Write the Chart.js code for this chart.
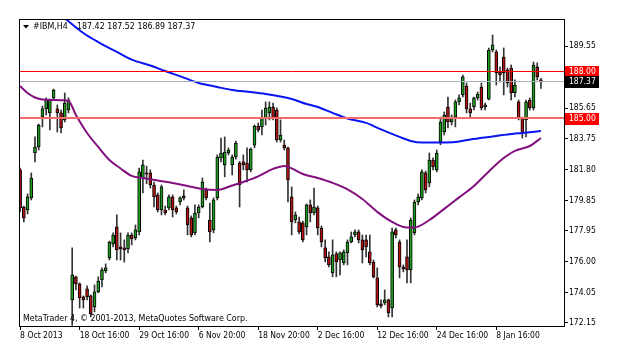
<!DOCTYPE html>
<html>
<head>
<meta charset="utf-8">
<title>#IBM,H4</title>
<script src="https://cdn.jsdelivr.net/npm/chart.js@4.4.1/dist/chart.umd.min.js"></script>
<style>
  html, body { margin: 0; padding: 0; background: #fff; }
  canvas { display: block; }
</style>
</head>
<body>
<canvas id="chart" width="620" height="364"></canvas>
<script>
"use strict";

// ---- IBM H4 bars (one entry per bar, oldest first) ----
const opens = [181.77,179.44,179.25,180.01,182.83,183.21,185.09,185.60,185.35,186.29,
  185.60,185.35,184.91,185.53,173.60,175.05,174.61,173.79,174.29,173.85,
  173.16,174.10,174.86,175.42,176.24,177.12,178.19,176.93,176.87,176.80,
  177.68,177.49,177.87,181.26,181.58,181.58,180.82,180.20,179.25,179.25,
  179.38,180.07,179.38,179.75,180.01,179.38,178.75,177.81,179.06,179.44,
  180.51,178.62,178.00,180.01,182.52,182.08,182.83,182.08,182.58,182.20,
  182.27,182.20,181.77,183.33,184.52,184.47,185.03,185.35,185.72,185.53,
  183.65,183.33,183.15,180.07,178.62,178.50,178.44,178.19,179.57,179.06,
  179.38,178.12,176.87,176.30,175.30,176.49,176.11,175.92,176.55,177.24,
  177.68,177.87,177.37,177.37,176.62,175.98,174.98,173.35,173.41,173.60,
  173.09,178.00,177.24,175.67,176.30,175.49,177.81,179.75,180.01,181.58,
  180.95,182.39,181.77,183.52,184.15,185.72,184.78,185.09,186.04,186.48,
  187.04,185.60,185.72,186.29,186.98,185.72,186.22,189.30,189.18,187.92,
  188.86,188.05,188.17,186.60,186.04,185.03,184.91,186.16,185.66,188.24,
  187.42];
const highs = [181.89,179.50,180.26,181.58,183.84,184.65,185.78,186.29,186.22,186.85,
  185.85,185.53,186.60,186.29,176.87,175.10,174.67,173.85,174.48,173.92,
  174.54,175.05,175.61,175.86,177.30,177.81,178.94,177.81,177.37,177.81,
  177.81,178.31,181.89,182.39,182.00,181.77,181.00,180.32,180.82,179.50,
  180.20,180.20,179.50,180.07,180.51,179.50,178.88,179.57,179.57,181.26,
  180.63,179.69,180.01,182.71,183.77,183.84,183.15,182.71,183.58,182.30,
  182.71,183.15,183.15,184.59,184.72,185.53,186.04,186.04,185.97,185.66,
  184.91,183.65,183.21,180.70,179.13,178.81,178.56,179.63,179.88,180.63,
  179.50,178.25,177.37,176.62,177.37,176.62,176.62,176.74,177.37,177.87,
  178.00,178.00,177.68,177.68,177.68,176.11,175.61,173.60,174.23,173.66,
  178.12,178.12,177.37,175.80,177.37,178.75,179.88,180.26,181.77,181.70,
  182.83,182.52,183.02,185.09,185.41,186.35,185.22,186.16,186.48,187.73,
  187.23,185.97,186.35,186.66,187.23,185.97,189.43,190.24,189.30,188.24,
  189.43,188.17,188.36,187.42,186.16,185.09,186.16,186.29,188.55,188.49,
  187.52];
const lows = [179.13,178.50,179.00,179.88,182.27,183.02,184.47,185.22,184.28,186.16,
  184.15,184.09,184.78,185.35,172.00,174.23,173.09,173.09,173.60,172.53,
  172.85,174.04,174.42,175.30,176.11,176.93,176.11,176.11,175.98,176.55,
  177.05,177.37,177.68,180.32,180.90,180.63,179.44,179.13,178.94,178.94,
  179.25,178.81,179.00,179.57,179.88,177.68,177.56,177.68,178.75,179.38,
  179.88,177.24,177.81,179.88,182.27,181.33,182.71,181.45,182.45,179.44,
  181.77,181.01,181.64,183.15,184.15,183.96,184.59,184.91,184.91,183.52,
  183.52,183.02,179.75,177.68,178.44,177.75,177.24,177.68,178.50,178.94,
  177.68,176.93,175.98,175.67,175.05,175.05,175.17,175.80,175.80,177.18,
  177.56,177.18,175.92,176.30,175.80,174.98,173.16,173.09,173.29,172.53,
  172.53,177.49,174.98,175.36,174.67,174.67,177.68,179.57,179.88,180.32,
  180.70,181.77,181.64,183.35,183.96,184.40,184.59,184.47,185.85,186.35,
  185.35,185.09,185.53,186.16,185.53,185.53,186.16,189.18,187.10,187.29,
  186.48,186.98,186.16,186.35,184.91,183.77,183.84,185.53,185.53,187.42,
  186.89];
const closes = [179.38,178.75,180.07,181.26,183.21,184.59,185.60,186.16,186.16,186.79,
  185.35,184.40,185.97,186.16,175.17,174.61,173.73,173.60,173.79,172.72,
  174.10,174.79,175.49,175.61,177.24,177.68,176.74,176.80,176.74,177.68,
  177.43,178.00,181.64,182.08,181.50,180.82,180.07,179.25,180.70,179.06,
  180.07,179.25,179.13,180.01,180.14,178.31,177.68,179.06,179.44,181.01,
  180.01,177.87,179.88,182.58,182.83,182.89,183.02,182.58,183.46,180.82,
  182.08,181.77,183.08,184.52,184.28,185.03,185.66,185.72,185.03,183.65,
  183.96,183.15,181.14,178.50,178.94,177.87,177.37,179.57,179.06,179.44,
  178.12,177.24,176.24,175.80,176.43,175.98,176.55,176.62,177.24,177.56,
  177.87,177.37,176.74,176.93,175.92,175.05,173.29,173.22,173.60,172.78,
  177.87,177.68,175.67,175.55,175.49,178.62,179.75,180.07,181.64,180.51,
  182.39,181.95,182.83,184.78,185.22,184.78,185.03,186.04,186.29,187.61,
  185.60,185.35,186.29,186.54,185.66,185.85,189.30,189.62,187.86,187.73,
  187.86,187.23,186.60,187.10,185.03,184.09,186.04,185.66,188.36,187.61,
  187.37];

// moving averages, read at some bar positions (blue = slow, purple = fast)
const maSlowBars = [11, 17, 21, 26, 30, 35, 39, 44, 48, 53, 57, 62, 66, 70, 73, 77, 80,
  84, 88, 93, 97, 102, 105, 108, 113, 117, 121, 126, 131, 135, 140];
const maSlowVals = [191.50, 190.37, 189.80, 189.18, 188.70, 188.33, 187.98, 187.57, 187.23,
  186.98, 186.79, 186.66, 186.54, 186.38, 186.22, 185.91, 185.72, 185.35, 185.00, 184.72,
  184.31, 183.84, 183.59, 183.49, 183.49, 183.52, 183.68, 183.84, 183.99, 184.09, 184.21];
const maFastBars = [0, 2, 4, 6, 9, 13, 15, 18, 21, 24, 27, 30, 33, 37, 41, 45, 49, 53, 57,
  60, 64, 68, 71, 73, 76, 80, 84, 88, 92, 96, 100, 104, 106, 110, 114, 118, 122, 126, 129,
  133, 137, 140];
const maFastVals = [187.04, 186.60, 186.32, 186.19, 186.16, 186.10, 185.22, 184.09, 183.21,
  182.39, 181.86, 181.39, 181.26, 181.10, 180.95, 180.76, 180.57, 180.51, 180.79, 181.01,
  181.36, 181.83, 182.02, 181.86, 181.51, 181.26, 180.95, 180.54, 179.94, 179.13, 178.50,
  178.15, 178.15, 178.62, 179.32, 180.04, 180.76, 181.67, 182.33, 182.96, 183.27, 183.77];

// axis labels
const timeLabels = ["8 Oct 2013", "18 Oct 16:00", "29 Oct 16:00", "6 Nov 20:00",
  "18 Nov 20:00", "2 Dec 16:00", "12 Dec 16:00", "24 Dec 16:00", "8 Jan 16:00"];
const timeLabelBars = [0, 16, 32, 48, 64, 80, 96, 112, 128];
const priceTicks = [172.15, 174.05, 176.00, 177.95, 179.85, 181.80, 183.75, 185.65, 189.55];

// horizontal levels
const upperLevel = 188.00;
const lowerLevel = 185.00;

const FONT = "Tahoma, 'DejaVu Sans Condensed', 'Liberation Sans', sans-serif";
const bullColor = "#1e9e1e";
const bearColor = "#b31212";

const last = opens.length - 1;
const bid = closes[last];

const wickData = lows.map((lo, i) => ({ x: i, y: [lo, highs[i]] }));
const bodyData = opens.map((o, i) => ({ x: i, y: [o, closes[i]] }));
const bodyColors = opens.map((o, i) => (closes[i] >= o ? bullColor : bearColor));
const slowData = maSlowBars.map((b, i) => ({ x: b, y: maSlowVals[i] }));
const fastData = maFastBars.map((b, i) => ({ x: b, y: maFastVals[i] }));

// -----------------------------
// levels, frame, header, price tags
// -----------------------------
const terminalDecor = {
  id: "terminalDecor",
  afterDatasetsDraw(chart) {
    const { ctx, chartArea: a } = chart;
    const y = chart.scales.y;
    ctx.save();
    ctx.beginPath();
    ctx.rect(a.left, a.top, a.right - a.left, a.bottom - a.top);
    ctx.clip();

    ctx.strokeStyle = "#a4afbb";
    ctx.lineWidth = 1;
    let py = Math.round(y.getPixelForValue(bid)) + 0.5;
    ctx.beginPath(); ctx.moveTo(a.left, py); ctx.lineTo(a.right, py); ctx.stroke();

    ctx.strokeStyle = "#ff0000";
    py = Math.round(y.getPixelForValue(upperLevel)) + 0.5;
    ctx.beginPath(); ctx.moveTo(a.left, py); ctx.lineTo(a.right, py); ctx.stroke();

    ctx.strokeStyle = "#f76a6a";
    ctx.lineWidth = 2;
    py = Math.round(y.getPixelForValue(lowerLevel));
    ctx.beginPath(); ctx.moveTo(a.left, py); ctx.lineTo(a.right, py); ctx.stroke();
    ctx.restore();
  },
  afterDraw(chart) {
    const { ctx, chartArea: a } = chart;
    const y = chart.scales.y;
    ctx.save();

    // frame
    ctx.strokeStyle = "#000";
    ctx.lineWidth = 1;
    ctx.strokeRect(a.left + 0.5, a.top + 0.5, a.right - a.left, a.bottom - a.top);

    // header
    ctx.fillStyle = "#000";
    ctx.beginPath();
    ctx.moveTo(a.left + 4, a.top + 6);
    ctx.lineTo(a.left + 10, a.top + 6);
    ctx.lineTo(a.left + 7, a.top + 9.5);
    ctx.closePath();
    ctx.fill();
    ctx.font = "8.8px " + FONT;
    ctx.textAlign = "left";
    ctx.textBaseline = "middle";
    ctx.fillText("#IBM,H4", a.left + 14, a.top + 7.5);
    const ohlc = [opens[last], highs[last], lows[last], closes[last]].map((v) => v.toFixed(2));
    ctx.fillText(ohlc.join(" "), a.left + 58, a.top + 7.5);

    // copyright line
    ctx.fillText("MetaTrader 4, \u00a9 2001-2013, MetaQuotes Software Corp.", a.left + 4, a.bottom - 7);

    // price tags on the right scale
    ctx.font = "8.5px " + FONT;
    const tag = (val, bg) => {
      const ty = Math.round(y.getPixelForValue(val));
      ctx.fillStyle = bg;
      ctx.fillRect(a.right + 1, ty - 5, 34, 12);
      ctx.fillStyle = "#fff";
      ctx.fillText(val.toFixed(2), a.right + 5, ty + 1);
    };
    tag(upperLevel, "#ff0000");
    tag(bid, "#000000");
    tag(lowerLevel, "#ff0000");
    ctx.restore();
  },
};

new Chart(document.getElementById("chart"), {
  data: {
    datasets: [
      {
        type: "bar",
        data: wickData,
        backgroundColor: "#333333",
        barThickness: 1,
        grouped: false,
        order: 4,
      },
      {
        type: "bar",
        data: bodyData,
        backgroundColor: bodyColors,
        borderColor: "#000",
        borderWidth: 1,
        borderSkipped: false,
        barThickness: 3,
        grouped: false,
        order: 3,
      },
      {
        type: "line",
        data: slowData,
        borderColor: "#0a14f2",
        borderWidth: 2,
        pointRadius: 0,
        cubicInterpolationMode: "monotone",
        order: 2,
      },
      {
        type: "line",
        data: fastData,
        borderColor: "#82107f",
        borderWidth: 2,
        pointRadius: 0,
        cubicInterpolationMode: "monotone",
        order: 1,
      },
    ],
  },
  options: {
    responsive: false,
    animation: false,
    devicePixelRatio: 1,
    events: [],
    layout: { padding: { left: 19, top: 19, right: 0, bottom: 0 } },
    plugins: { legend: { display: false }, tooltip: { enabled: false } },
    scales: {
      x: {
        type: "linear",
        min: -0.3,
        max: 146.2,
        offset: false,
        border: { display: false },
        grid: { drawOnChartArea: false, offset: false, tickLength: 4, color: "#000" },
        afterBuildTicks: (s) => {
          s.ticks = timeLabelBars.map((v) => ({ value: v }));
        },
        afterFit: (s) => {
          s.height = 38;
        },
        ticks: {
          autoSkip: false,
          maxRotation: 0,
          align: "start",
          padding: 1,
          color: "#000",
          font: { family: FONT, size: 8.5 },
          callback: (v, i) => timeLabels[i],
        },
      },
      y: {
        type: "linear",
        position: "right",
        min: 171.96,
        max: 191.25,
        border: { display: false },
        grid: { drawOnChartArea: false, tickLength: 4, color: "#000" },
        afterBuildTicks: (s) => {
          s.ticks = priceTicks.map((v) => ({ value: v }));
        },
        afterFit: (s) => {
          s.width = 56;
        },
        ticks: {
          padding: 1,
          color: "#000",
          font: { family: FONT, size: 8.5 },
          callback: (v) => Number(v).toFixed(2),
        },
      },
    },
  },
  plugins: [terminalDecor],
});
</script>
</body>
</html>
